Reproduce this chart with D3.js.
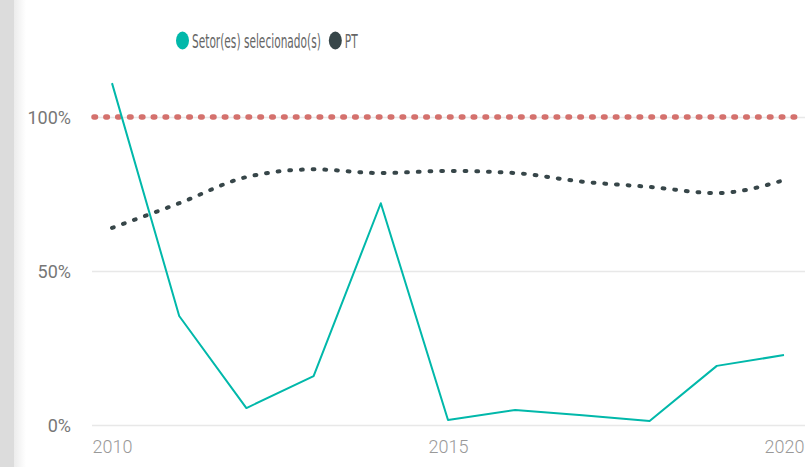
<!DOCTYPE html>
<html>
<head>
<meta charset="utf-8">
<script src="https://cdn.jsdelivr.net/npm/d3@7"></script>
<style>
  body { margin: 0; background: #fff; }
  svg { display: block; }
</style>
</head>
<body>
<svg id="chart" width="805" height="467"></svg>
<script>
// data
const years = [2010, 2011, 2012, 2013, 2014, 2015, 2016, 2017, 2018, 2019, 2020];
const setorValues = [1.11, 0.354, 0.055, 0.159, 0.72, 0.016, 0.049, 0.032, 0.013, 0.192, 0.227];
const ptValues = [0.64, 0.72, 0.805, 0.83, 0.818, 0.825, 0.818, 0.79, 0.773, 0.753, 0.795];
const referenceValue = 1.0;
const yTicks = [0, 0.5, 1];
const xTicks = [2010, 2015, 2020];
const legendLabels = ["Setor(es) selecionado(s)", "PT"];

const colors = { setor: "#01B8AA", pt: "#374649", ref: "#D4716D" };

const svg = d3.select("#chart");
const W = 805, H = 467;

// grey shadow on the left edge
const defs = svg.append("defs");
const grad = defs.append("linearGradient").attr("id", "shade");
grad.append("stop").attr("offset", "0%").attr("stop-color", "#ececec");
grad.append("stop").attr("offset", "100%").attr("stop-color", "#ffffff");
svg.append("rect").attr("x", 0).attr("y", 0).attr("width", 14).attr("height", H).attr("fill", "#dcdcdc");
svg.append("rect").attr("x", 14).attr("y", 0).attr("width", 12).attr("height", H).attr("fill", "url(#shade)");

const x = d3.scaleLinear().domain([2010, 2020]).range([112, 784]);
const y = d3.scaleLinear().domain([0, 1]).range([425, 117]);

// gridlines
svg.append("g")
  .attr("transform", "translate(92,0)")
  .call(d3.axisRight(y).tickValues(yTicks).tickSize(W - 92).tickFormat(""))
  .call(g => g.select(".domain").remove())
  .call(g => g.selectAll("line").attr("stroke", "#e8e8e8").attr("stroke-width", 1.5));

// y axis labels
svg.append("g")
  .attr("transform", "translate(71,0)")
  .call(d3.axisLeft(y).tickValues(yTicks).tickSize(0).tickPadding(0).tickFormat(d3.format(".0%")))
  .call(g => g.select(".domain").remove())
  .call(g => g.selectAll("text")
    .attr("fill", "#777")
    .attr("font-family", "Roboto, sans-serif")
    .attr("font-size", 18)
    .attr("dy", "0.36em"));

// x axis labels
svg.append("g")
  .attr("transform", "translate(0,425)")
  .call(d3.axisBottom(x).tickValues(xTicks).tickSize(0).tickPadding(15).tickFormat(d3.format("d")))
  .call(g => g.select(".domain").remove())
  .call(g => g.selectAll("text")
    .attr("fill", "#999")
    .attr("font-family", "Roboto, sans-serif")
    .attr("font-weight", 300)
    .attr("font-size", 18));

// 100% reference line
svg.append("line")
  .attr("x1", 92).attr("x2", W)
  .attr("y1", y(referenceValue)).attr("y2", y(referenceValue))
  .attr("stroke", colors.ref)
  .attr("stroke-width", 5.5)
  .attr("stroke-linecap", "round")
  .attr("stroke-dasharray", "1.5 10.35")
  .attr("stroke-dashoffset", -2);

// PT line (smoothed, dotted)
const ptLine = d3.line()
  .x((d, i) => x(years[i]))
  .y(d => y(d))
  .curve(d3.curveMonotoneX);

svg.append("path")
  .datum(ptValues)
  .attr("d", ptLine)
  .attr("fill", "none")
  .attr("stroke", colors.pt)
  .attr("stroke-width", 4)
  .attr("stroke-linecap", "round")
  .attr("stroke-dasharray", "1.8 9.9");

// setor line
const setorLine = d3.line()
  .x((d, i) => x(years[i]))
  .y(d => y(d));

svg.append("path")
  .datum(setorValues)
  .attr("d", setorLine)
  .attr("fill", "none")
  .attr("stroke", colors.setor)
  .attr("stroke-width", 2)
  .attr("stroke-linejoin", "round");

// legend (condensed look: squeeze horizontally)
const squeeze = 0.62;
const legend = svg.append("g")
  .attr("font-family", "'DejaVu Sans Condensed', 'DejaVu Sans', sans-serif");
const legendColors = [colors.setor, colors.pt];
let lx = 176;
legendLabels.forEach((label, i) => {
  legend.append("ellipse")
    .attr("cx", lx + 6.5).attr("cy", 40.5)
    .attr("rx", 6.5).attr("ry", 9)
    .attr("fill", legendColors[i]);
  const t = legend.append("text")
    .attr("transform", `translate(${lx + 16},47.5) scale(${squeeze},1)`)
    .attr("font-size", 19)
    .attr("fill", "#666")
    .text(label);
  lx += 16 + t.node().getComputedTextLength() * squeeze + 8;
});
</script>
</body>
</html>
